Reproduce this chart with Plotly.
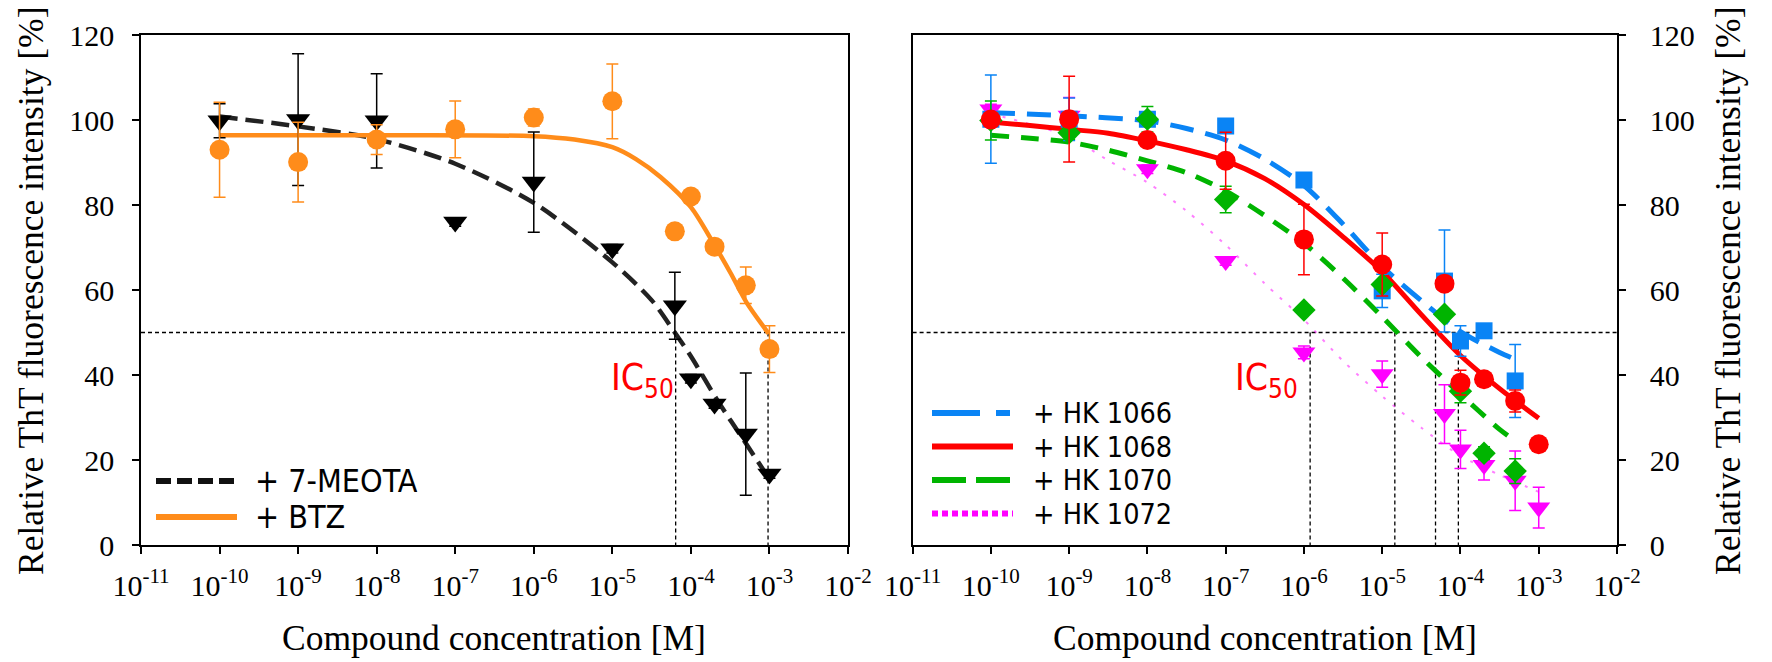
import plotly.graph_objects as go

# ---------------- data ----------------
conc = [1e-10, 1e-9, 1e-8, 1e-7, 1e-6, 1e-5, 6.25e-5, 1e-4, 2e-4, 5e-4, 1e-3]

meota_y = [99.8, 100.1, 99.8, 76.0, 85.4, 69.7, 56.3, 39.1, 33.2, 26.1, 16.7]
meota_err = [4.0, 15.5, 11.1, 1.0, 11.8, 1.0, 7.9, 1.0, 1.0, 14.4, 1.0]
btz_y = [93.0, 90.1, 95.4, 97.8, 100.6, 104.4, 73.8, 82.0, 70.2, 61.1, 46.1]
btz_err = [11.2, 9.4, 3.5, 6.7, 2.0, 8.8, 0.8, 0.8, 0.8, 4.3, 5.5]

hk1066_y = [100.2, 100.2, 100.2, 98.6, 85.9, 59.8, 62.1, 48.0, 50.4, 38.6]
hk1066_err = [10.4, 5.0, 1.0, 1.0, 1.0, 3.9, 12.0, 3.6, 1.0, 8.6]
hk1068_y = [100.1, 100.2, 95.3, 90.4, 71.9, 66.0, 61.5, 38.2, 39.0, 33.9, 23.7]
hk1068_err = [1.0, 10.1, 1.0, 6.7, 8.3, 7.4, 1.0, 2.9, 1.0, 2.6, 1.0]
hk1070_y = [99.9, 97.0, 100.2, 81.3, 55.3, 61.3, 54.3, 36.2, 21.6, 17.4]
hk1070_err = [4.6, 1.5, 3.0, 3.1, 1.0, 1.0, 1.0, 2.7, 1.5, 2.9]
hk1072_y = [102.5, 101.0, 88.4, 66.8, 45.3, 40.2, 30.8, 22.5, 18.8, 15.1, 8.8]
hk1072_err = [1.2, 4.3, 1.0, 1.0, 1.5, 3.1, 6.9, 4.5, 3.5, 7.0, 4.8]

# fitted dose-response curves
meota_fit_x = [1e-10, 1e-9, 1e-8, 1e-7, 1e-6, 1e-5, 3.2e-5, 6.4e-5, 1e-4, 2.2e-4, 5.1e-4, 1e-3]
meota_fit_y = [100.8, 98.5, 95.5, 89.7, 80.5, 66.5, 57.5, 49.7, 44.4, 33.9, 23.7, 15.5]
btz_fit_x = [1e-10, 1e-8, 1e-6, 3.3e-6, 1e-5, 2e-5, 4.1e-5, 1e-4, 1.95e-4, 3.2e-4, 5.1e-4, 9.8e-4]
btz_fit_y = [96.4, 96.4, 96.2, 95.4, 93.6, 90.8, 86.6, 79.5, 70.9, 64.0, 57.1, 49.7]

hk1066_fit_x = [1e-10, 1e-9, 1e-8, 3.16e-8, 1e-7, 3.16e-7, 1e-6, 3.16e-6, 1e-5, 3.16e-5, 1e-4, 3.16e-4, 5e-4]
hk1066_fit_y = [101.7, 101.0, 99.8, 98.0, 95.3, 90.8, 84.6, 75.5, 65.5, 57.5, 50.2, 45.3, 43.7]
hk1068_fit_x = [1e-10, 3.16e-10, 1e-9, 3.16e-9, 1e-8, 3.16e-8, 1e-7, 3.16e-7, 1e-6, 3.16e-6, 1e-5,
                3.16e-5, 1e-4, 3.16e-4, 1e-3]
hk1068_fit_y = [99.5, 98.7, 97.8, 96.9, 95.1, 93.0, 90.4, 86.2, 80.1, 72.5, 64.3, 54.2, 44.6, 36.8, 29.8]
hk1070_fit_x = [1e-10, 3.16e-10, 1e-9, 3.16e-9, 1e-8, 3.16e-8, 1e-7, 3.16e-7, 1e-6, 3.16e-6, 1e-5,
                3.16e-5, 1e-4, 3.16e-4, 5e-4]
hk1070_fit_y = [96.4, 95.7, 94.8, 92.9, 90.4, 87.6, 83.3, 77.5, 71.0, 62.8, 53.7, 44.2, 35.5, 27.2, 24.5]
hk1072_fit_x = [1e-10, 3.16e-10, 1e-9, 3.16e-9, 1e-8, 3.16e-8, 1e-7, 3.16e-7, 1e-6, 3.16e-6,
                1e-5, 3.16e-5, 1e-4, 3.16e-4, 1e-3]
hk1072_fit_y = [101.5, 99.0, 96.0, 90.5, 85.3, 78.6, 70.6, 61.5, 53.0, 43.3, 35.0, 27.6, 21.0, 16.5, 12.5]

# IC50 guide lines
ic_level = 50
left_ic50 = [6.4e-5, 9.6e-4]
right_ic50 = [1.2e-6, 1.45e-5, 4.8e-5, 9.4e-5]

# axes
tick_exponents = [-11, -10, -9, -8, -7, -6, -5, -4, -3, -2]
x_tickvals = [10.0 ** e for e in tick_exponents]
x_ticktext = ["10<sup>%d</sup>" % e for e in tick_exponents]
y_tickvals = [0, 20, 40, 60, 80, 100, 120]

legend_left = ["+ 7-MEOTA", "+ BTZ"]
legend_right = ["+ HK 1066", "+ HK 1068", "+ HK 1070", "+ HK 1072"]
x_title = "Compound concentration [M]"
y_title = "Relative ThT fluorescence intensity [%]"

# ---------------- styles ----------------
SERIF = "Liberation Serif, Times New Roman, serif"
NARROW = "DejaVu Sans Condensed, Liberation Sans Narrow, sans-serif"
BLACK = "#000000"
ORANGE = "#ff8c1a"
BLUE = "#0a84f5"
RED = "#ff0000"
GREEN = "#00b400"
MAGENTA = "#ff00ff"

W, H = 1772, 662
L, R, T, B = 141, 1617, 35, 545


def px(x):
    return (x - L) / (R - L)


def py(y):
    return (B - y) / (B - T)


fig = go.Figure()


def guide(xa, ya, ics):
    xs, ys = [x_tickvals[0], x_tickvals[-1], None], [ic_level, ic_level, None]
    for v in ics:
        xs += [v, v, None]
        ys += [ic_level, 0, None]
    fig.add_trace(go.Scatter(x=xs, y=ys, mode="lines", xaxis=xa, yaxis=ya, showlegend=False,
                             line=dict(color=BLACK, width=1.3, dash="4px,3px"), hoverinfo="skip"))


def curve(xa, ya, x, y, color, width, dash):
    fig.add_trace(go.Scatter(x=x, y=y, mode="lines", xaxis=xa, yaxis=ya, showlegend=False,
                             line=dict(color=color, width=width, dash=dash, shape="spline", smoothing=0.8)))


def points(xa, ya, y, err, color, symbol, size):
    fig.add_trace(go.Scatter(x=conc[:len(y)], y=y, mode="markers", xaxis=xa, yaxis=ya, showlegend=False,
                             marker=dict(color=color, symbol=symbol, size=size, line=dict(width=0)),
                             error_y=dict(type="data", array=err, visible=True, color=color,
                                          thickness=1.5, width=6)))


# left panel
guide("x", "y", left_ic50)
curve("x", "y", meota_fit_x, meota_fit_y, "#222222", 4.5, "18px,8px")
curve("x", "y", btz_fit_x, btz_fit_y, ORANGE, 4.5, "solid")
points("x", "y", meota_y, meota_err, BLACK, "triangle-down", 21)
points("x", "y", btz_y, btz_err, ORANGE, "circle", 20)

# right panel
guide("x2", "y2", right_ic50)
curve("x2", "y2", hk1072_fit_x, hk1072_fit_y, "rgba(255,0,255,0.5)", 2, "3px,9px")
curve("x2", "y2", hk1066_fit_x, hk1066_fit_y, BLUE, 5, "24px,12px")
curve("x2", "y2", hk1070_fit_x, hk1070_fit_y, GREEN, 5, "18px,12px")
curve("x2", "y2", hk1068_fit_x, hk1068_fit_y, RED, 5, "solid")
points("x2", "y2", hk1072_y, hk1072_err, MAGENTA, "triangle-down", 20)
points("x2", "y2", hk1066_y, hk1066_err, BLUE, "square", 17)
points("x2", "y2", hk1070_y, hk1070_err, GREEN, "diamond", 18)
points("x2", "y2", hk1068_y, hk1068_err, RED, "circle", 20)

xcommon = dict(type="log", range=[-11, -2], tickvals=x_tickvals, ticktext=x_ticktext,
               showline=True, linecolor=BLACK, linewidth=1.5, mirror=True,
               ticks="outside", ticklen=7, tickwidth=1.5, tickcolor=BLACK,
               showgrid=False, zeroline=False,
               tickfont=dict(family=SERIF, size=30, color=BLACK), ticklabelstandoff=6)
ycommon = dict(range=[0, 120], tickvals=y_tickvals, showline=True, linecolor=BLACK, linewidth=1.5,
               mirror=True, ticks="outside", ticklen=7, tickwidth=1.5, tickcolor=BLACK,
               showgrid=False, zeroline=False,
               tickfont=dict(family=SERIF, size=30, color=BLACK))

# legends (drawn as samples + text)
shapes = []
annotations = []
left_styles = [("#111111", "15px,6px"), (ORANGE, "solid")]
for i, (name, (c, d)) in enumerate(zip(legend_left, left_styles)):
    yy = 481 + i * 36
    shapes.append(dict(type="line", xref="paper", yref="paper", x0=px(156), x1=px(237), y0=py(yy), y1=py(yy),
                       line=dict(color=c, width=6, dash=d)))
    annotations.append(dict(text=name, xref="paper", yref="paper", x=px(253), y=py(yy), xanchor="left",
                            yanchor="middle", showarrow=False, height=34, valign="middle",
                            font=dict(family=NARROW, size=32, color=BLACK)))
right_styles = [(BLUE, "48px,16px,14px,16px"), (RED, "solid"), (GREEN, "34px,10px"), (MAGENTA, "6px,4px")]
for i, (name, (c, d)) in enumerate(zip(legend_right, right_styles)):
    yy = 413 + i * 33.5
    shapes.append(dict(type="line", xref="paper", yref="paper", x0=px(932), x1=px(1013), y0=py(yy), y1=py(yy),
                       line=dict(color=c, width=6, dash=d)))
    annotations.append(dict(text=name, xref="paper", yref="paper", x=px(1031), y=py(yy), xanchor="left",
                            yanchor="middle", showarrow=False, height=32, valign="middle",
                            font=dict(family=NARROW, size=28.5, color=BLACK)))

# IC50 labels
for xx in (609, 1233):
    annotations.append(dict(text="IC<sub>50</sub>", xref="paper", yref="paper", x=px(xx), y=py(354),
                            xanchor="left", yanchor="top", showarrow=False,
                            font=dict(family=NARROW, size=37, color=RED)))

# axis titles
for xx in (494, 1265):
    annotations.append(dict(text=x_title, xref="paper", yref="paper", x=px(xx), y=py(638),
                            xanchor="center", yanchor="middle", showarrow=False,
                            font=dict(family=SERIF, size=35.5, color=BLACK)))
for xx in (31, 1728):
    annotations.append(dict(text=y_title, xref="paper", yref="paper", x=px(xx), y=py(291),
                            xanchor="center", yanchor="middle", showarrow=False, textangle=-90,
                            font=dict(family=SERIF, size=35.5, color=BLACK)))

fig.update_layout(
    width=W, height=H, margin=dict(l=L, r=W - R, t=T, b=H - B, autoexpand=False),
    paper_bgcolor="white", plot_bgcolor="white", showlegend=False,
    xaxis=dict(domain=[0, px(848)], anchor="y", **xcommon),
    yaxis=dict(domain=[0, 1], anchor="x", side="left", ticklabelstandoff=12, **ycommon),
    xaxis2=dict(domain=[px(912.6), 1], anchor="y2", **xcommon),
    yaxis2=dict(domain=[0, 1], anchor="x2", side="right", ticklabelstandoff=18, **ycommon),
    shapes=shapes, annotations=annotations,
)

fig.write_html("out.html", config={"displayModeBar": False},
               post_script="document.body.style.margin='0';")
